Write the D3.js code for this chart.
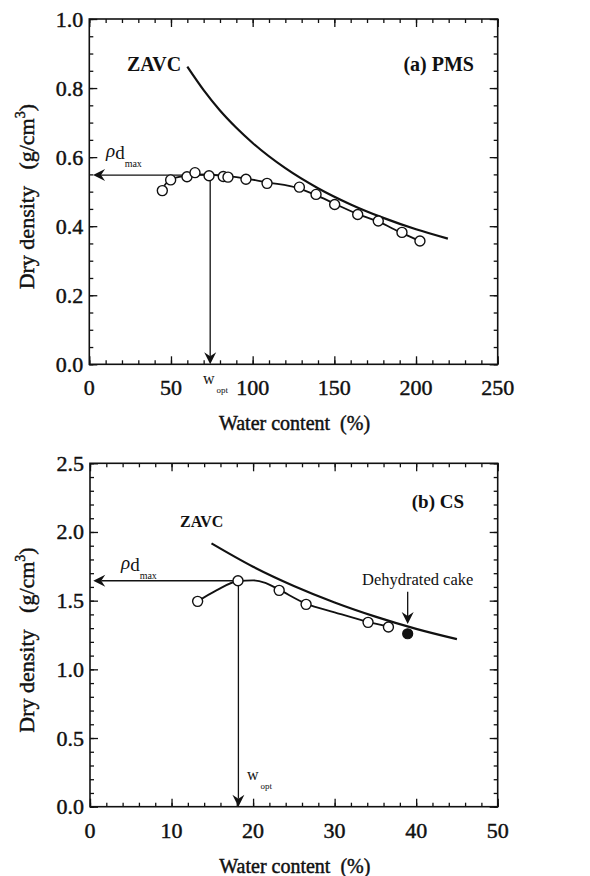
<!DOCTYPE html>
<html>
<head>
<meta charset="utf-8">
<script src="https://cdn.jsdelivr.net/npm/d3@7"></script>
<style>
  html, body { margin: 0; padding: 0; background: #fff; }
  svg { display: block; }
  text { font-family: "Liberation Serif", "Times New Roman", serif; fill: #111; white-space: pre; }
  .heavy { stroke: #111; stroke-width: 0.45; }
</style>
</head>
<body>
<svg id="chart" width="590" height="876"></svg>
<script>
// ---------- Data: (a) PMS ----------
const pmsWater   = [44.7, 49.8, 59.8, 64.7, 73.3, 82.0, 84.9, 95.9, 108.8, 128.6, 138.8, 150.2, 164.3, 176.9, 191.4, 202.4];
const pmsDensity = [0.503, 0.534, 0.543, 0.555, 0.546, 0.544, 0.542, 0.536, 0.524, 0.513, 0.492, 0.463, 0.434, 0.415, 0.382, 0.357];
const pmsFitWater   = [45.5, 49.8, 59.8, 66, 73.3, 85, 96, 108.8, 128.6, 138.8, 150.2, 164.3, 176.9, 191.4, 202.4];
const pmsFitDensity = [0.515, 0.536, 0.546, 0.550, 0.549, 0.545, 0.538, 0.527, 0.509, 0.490, 0.465, 0.435, 0.413, 0.380, 0.357];
const pmsZavcWater   = [60, 70, 80, 90, 100, 120, 140, 160, 180, 200, 219.5];
const pmsZavcDensity = [0.862, 0.794, 0.735, 0.685, 0.641, 0.568, 0.510, 0.463, 0.424, 0.391, 0.364];
const pmsOpt = { w: 74, rho: 0.548 };
const pmsXTicks = [0, 50, 100, 150, 200, 250];
const pmsYTicks = [0.0, 0.2, 0.4, 0.6, 0.8, 1.0];

// ---------- Data: (b) CS ----------
const csWater   = [13.2, 18.15, 23.2, 26.5, 34.1, 36.6];
const csDensity = [1.495, 1.645, 1.575, 1.473, 1.342, 1.308];
const csFitWater   = [13.2, 15.5, 18.2, 20, 21.5, 23.2, 26.5, 30, 34.1, 36.6];
const csFitDensity = [1.495, 1.575, 1.643, 1.648, 1.630, 1.580, 1.478, 1.415, 1.345, 1.310];
const csZavcWater   = [14.9, 20, 25, 30, 35, 40, 45];
const csZavcDensity = [1.917, 1.747, 1.607, 1.487, 1.384, 1.295, 1.220];
const csCake = { w: 38.96, rho: 1.259 };
const csOpt = { w: 18.2, rho: 1.645 };
const csXTicks = [0, 10, 20, 30, 40, 50];
const csYTicks = [0.0, 0.5, 1.0, 1.5, 2.0, 2.5];

const svg = d3.select("#chart");

function arrowHead(g, x, y, dir) {
  const L = 12, W = 6, N = 4;
  let p;
  if (dir === "left") {
    p = `M${x},${y} L${x + L},${y - W} L${x + L - N},${y} L${x + L},${y + W} Z`;
  } else {
    p = `M${x},${y} L${x - W},${y - L} L${x},${y - L + N} L${x + W},${y - L} Z`;
  }
  g.append("path").attr("d", p).attr("fill", "#111").attr("stroke", "none");
}

function panel(cfg) {
  const g = svg.append("g");
  const x = d3.scaleLinear().domain(cfg.xDomain).range([cfg.left, cfg.right]);
  const y = d3.scaleLinear().domain(cfg.yDomain).range([cfg.bottom, cfg.top]);
  const xMinor = d3.range(cfg.xDomain[0], cfg.xDomain[1] + 1e-9, cfg.xMinorStep);
  const yMinor = d3.range(cfg.yDomain[0], cfg.yDomain[1] + 1e-9, cfg.yMinorStep);

  const tickStyle = sel => {
    sel.select(".domain").remove();
    sel.selectAll(".tick line").attr("stroke", "#111").attr("stroke-width", 1.3);
    sel.selectAll("text").remove();
  };
  g.append("g").attr("transform", `translate(0,${cfg.bottom})`)
    .call(d3.axisBottom(x).tickValues(xMinor).tickSize(-4)).call(tickStyle);
  g.append("g").attr("transform", `translate(0,${cfg.top})`)
    .call(d3.axisTop(x).tickValues(xMinor).tickSize(-4)).call(tickStyle);
  g.append("g").attr("transform", `translate(${cfg.left},0)`)
    .call(d3.axisLeft(y).tickValues(yMinor).tickSize(-4)).call(tickStyle);
  g.append("g").attr("transform", `translate(${cfg.right},0)`)
    .call(d3.axisRight(y).tickValues(yMinor).tickSize(-4)).call(tickStyle);
  g.append("g").attr("transform", `translate(0,${cfg.bottom})`)
    .call(d3.axisBottom(x).tickValues(cfg.xTicks).tickSize(-8)).call(tickStyle);
  g.append("g").attr("transform", `translate(0,${cfg.top})`)
    .call(d3.axisTop(x).tickValues(cfg.xTicks).tickSize(-8)).call(tickStyle);
  g.append("g").attr("transform", `translate(${cfg.left},0)`)
    .call(d3.axisLeft(y).tickValues(cfg.yTicks).tickSize(-8)).call(tickStyle);
  g.append("g").attr("transform", `translate(${cfg.right},0)`)
    .call(d3.axisRight(y).tickValues(cfg.yTicks).tickSize(-8)).call(tickStyle);

  g.append("rect").attr("x", cfg.left).attr("y", cfg.top)
    .attr("width", cfg.right - cfg.left).attr("height", cfg.bottom - cfg.top)
    .attr("fill", "none").attr("stroke", "#111").attr("stroke-width", 1.6);

  g.selectAll(".xl").data(cfg.xTicks).enter().append("text").attr("class", "heavy")
    .attr("x", d => x(d)).attr("y", cfg.bottom + 31)
    .attr("text-anchor", "middle").attr("font-size", 22).text(d => d);
  g.selectAll(".yl").data(cfg.yTicks).enter().append("text").attr("class", "heavy")
    .attr("x", cfg.left - 6).attr("y", d => y(d) + 7.5)
    .attr("text-anchor", "end").attr("font-size", 22).text(d => d3.format(".1f")(d));

  g.append("text").attr("class", "heavy").attr("x", (cfg.left + cfg.right) / 2 + 1).attr("y", cfg.bottom + 66)
    .attr("text-anchor", "middle").attr("font-size", 20).text("Water content  (%)");
  const yt = g.append("text").attr("class", "heavy")
    .attr("transform", `translate(34,${(cfg.top + cfg.bottom) / 2 + 5}) rotate(-90)`)
    .attr("text-anchor", "middle").attr("font-size", 22);
  yt.append("tspan").text("Dry density   (g/cm");
  yt.append("tspan").attr("font-size", 14).attr("dy", -9).text("3");
  yt.append("tspan").attr("dy", 9).text(")");

  const line = d3.line().x(d => x(d[0])).y(d => y(d[1])).curve(d3.curveMonotoneX);
  g.append("path").datum(cfg.zavcW.map((w, i) => [w, cfg.zavcR[i]]))
    .attr("d", line).attr("fill", "none").attr("stroke", "#111").attr("stroke-width", 2.2);
  g.append("path").datum(cfg.fitW.map((w, i) => [w, cfg.fitR[i]]))
    .attr("d", line).attr("fill", "none").attr("stroke", "#111").attr("stroke-width", 1.8);

  g.append("line").attr("x1", x(cfg.opt.w)).attr("y1", y(cfg.opt.rho))
    .attr("x2", x(cfg.arrowEndX) + 8).attr("y2", y(cfg.opt.rho))
    .attr("stroke", "#111").attr("stroke-width", 1.3);
  arrowHead(g, x(cfg.arrowEndX), y(cfg.opt.rho), "left");
  g.append("line").attr("x1", x(cfg.opt.w)).attr("y1", y(cfg.opt.rho))
    .attr("x2", x(cfg.opt.w)).attr("y2", y(0) - 8)
    .attr("stroke", "#111").attr("stroke-width", 1.3);
  arrowHead(g, x(cfg.opt.w), y(0), "down");

  g.selectAll(".pt").data(cfg.ptW.map((w, i) => [w, cfg.ptR[i]])).enter().append("circle")
    .attr("cx", d => x(d[0])).attr("cy", d => y(d[1])).attr("r", 5)
    .attr("fill", "#fff").attr("stroke", "#111").attr("stroke-width", 1.4);

  g.append("text").attr("x", cfg.zavcLabel[0]).attr("y", cfg.zavcLabel[1])
    .attr("font-size", cfg.zavcSize).attr("font-weight", "bold").text("ZAVC");
  g.append("text").attr("x", cfg.panelLabel[0]).attr("y", cfg.panelLabel[1])
    .attr("font-size", cfg.panelSize).attr("font-weight", "bold").attr("text-anchor", "end").text(cfg.panelText);

  const rl = g.append("text").attr("x", cfg.rhoLabel[0]).attr("y", cfg.rhoLabel[1]).attr("font-size", 19);
  rl.append("tspan").attr("font-style", "italic").text("ρ");
  rl.append("tspan").attr("dy", 2).text("d");
  rl.append("tspan").attr("font-size", 10).attr("dy", 8).text("max");

  const wl = g.append("text").attr("x", cfg.wLabel[0]).attr("y", cfg.wLabel[1]).attr("font-size", 16);
  wl.append("tspan").text("w");
  wl.append("tspan").attr("font-size", 9).attr("dy", 9).attr("dx", 2).text("opt");

  return { g, x, y };
}

panel({
  left: 89.3, right: 497.7, top: 19, bottom: 364.3,
  xDomain: [0, 250], yDomain: [0, 1], xMinorStep: 10, yMinorStep: 0.05,
  xTicks: pmsXTicks, yTicks: pmsYTicks,
  ptW: pmsWater, ptR: pmsDensity, fitW: pmsFitWater, fitR: pmsFitDensity,
  zavcW: pmsZavcWater, zavcR: pmsZavcDensity, opt: pmsOpt, arrowEndX: 2.3,
  zavcLabel: [127, 71], zavcSize: 20, panelLabel: [474, 71], panelSize: 20, panelText: "(a) PMS",
  rhoLabel: [106, 157], wLabel: [203, 384]
});

const cs = panel({
  left: 90, right: 497.7, top: 463.3, bottom: 806.7,
  xDomain: [0, 50], yDomain: [0, 2.5], xMinorStep: 2, yMinorStep: 0.1,
  xTicks: csXTicks, yTicks: csYTicks,
  ptW: csWater, ptR: csDensity, fitW: csFitWater, fitR: csFitDensity,
  zavcW: csZavcWater, zavcR: csZavcDensity, opt: csOpt, arrowEndX: 0.4,
  zavcLabel: [180, 527], zavcSize: 16, panelLabel: [464, 508], panelSize: 19, panelText: "(b) CS",
  rhoLabel: [121, 569], wLabel: [247, 780]
});

cs.g.append("line").attr("x1", cs.x(csCake.w)).attr("y1", cs.y(1.565))
  .attr("x2", cs.x(csCake.w)).attr("y2", cs.y(1.33) - 8)
  .attr("stroke", "#111").attr("stroke-width", 1.3);
arrowHead(cs.g, cs.x(csCake.w), cs.y(1.33), "down");
cs.g.append("circle").attr("cx", cs.x(csCake.w)).attr("cy", cs.y(csCake.rho)).attr("r", 5)
  .attr("fill", "#111").attr("stroke", "#111").attr("stroke-width", 1.2);
cs.g.append("text").attr("x", cs.x(csCake.w) + 10).attr("y", 585)
  .attr("text-anchor", "middle").attr("font-size", 16.5).text("Dehydrated cake");
</script>
</body>
</html>
